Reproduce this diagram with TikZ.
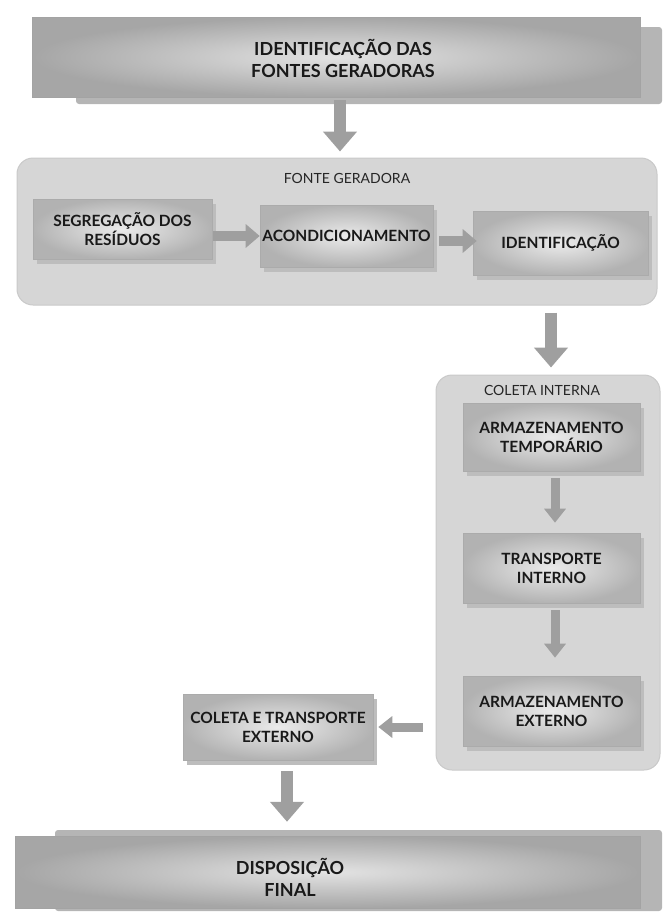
\documentclass[tikz,border=0pt]{standalone}
\usepackage{fontspec}
\setmainfont{Lato}
\usetikzlibrary{shadows,arrows.meta,calc}
\begin{document}
\begin{tikzpicture}[x=1pt,y=-1pt,
  banner/.style={rectangle, inner color=gray!22, outer color=gray!70, draw=gray!72, line width=0.5pt},
  backlayer/.style={fill=gray!58, rounded corners=3pt},
  btext/.style={align=center, font=\bfseries\fontsize{18}{22}\selectfont, text=black!90, inner sep=0pt},
  cont/.style={rectangle, rounded corners=16pt, fill=gray!32, draw=gray!42, line width=1pt},
  ctext/.style={font=\fontsize{14}{16}\selectfont, text=black!85, inner sep=0pt},
  box/.style={rectangle, inner color=gray!16, outer color=gray!60, draw=gray!66, line width=0.6pt,
    drop shadow={shadow xshift=4pt, shadow yshift=-5pt, fill=gray!52, opacity=1},
    align=center, font=\bfseries\fontsize{15.5}{19}\selectfont, text=black!90, inner sep=2pt},
  bigarrow/.style={line width=12pt, draw=gray!75, -{Triangle[width=33pt,length=20pt]}},
  harrow/.style={line width=10pt, draw=gray!75, -{Triangle[width=23pt,length=14pt]}},
  smallarrow/.style={line width=9pt, draw=gray!75, -{Triangle[width=21pt,length=14pt]}}
]
\useasboundingbox (0,0) rectangle (664,913);

% top banner
\path[backlayer] (76,27) rectangle (662,104);
\node[banner, minimum width=608pt, minimum height=80pt] (top) at (336,57) {};
\node[btext] (toptxt) at (343,58) {IDENTIFICAÇÃO DAS\\FONTES GERADORAS};

% fonte geradora
\node[cont, minimum width=640pt, minimum height=147pt] (fonte) at (337,231.5) {};
\node[ctext] (fontelbl) at (347,178) {FONTE GERADORA};
\node[box, minimum width=179pt, minimum height=60pt] (seg) at (122.5,229) {SEGREGAÇÃO DOS\\RESÍDUOS};
\node[box, minimum width=173pt, minimum height=62pt] (acond) at (346.5,236) {ACONDICIONAMENTO};
\node[box, minimum width=175pt, minimum height=64pt] (ident) at (560.5,243) {IDENTIFICAÇÃO};

% coleta interna
\node[cont, minimum width=224pt, minimum height=395pt] (coleta) at (548,572.5) {};
\node[ctext] (coletalbl) at (542,390) {COLETA INTERNA};
\node[box, minimum width=177pt, minimum height=68pt] (armtemp) at (551.5,437) {ARMAZENAMENTO\\TEMPORÁRIO};
\node[box, minimum width=177pt, minimum height=70pt] (transp) at (551.5,568) {TRANSPORTE\\INTERNO};
\node[box, minimum width=177pt, minimum height=70pt] (armext) at (551.5,711) {ARMAZENAMENTO\\EXTERNO};

% coleta externa
\node[box, minimum width=190pt, minimum height=66pt] (cext) at (278,727) {COLETA E TRANSPORTE\\EXTERNO};

% disposicao final
\path[backlayer] (55,830) rectangle (662,911);
\node[banner, minimum width=625pt, minimum height=72pt] (disp) at (327.5,872) {};
\node[btext] (disptxt) at (290,877) {DISPOSIÇÃO\\FINAL};

% arrows
\coordinate (a1x) at (340,0);
\coordinate (a2x) at (551,0);
\coordinate (a3x) at (555,0);
\coordinate (a4x) at (287,0);
\coordinate (h2y) at (0,241);

\draw[bigarrow, shorten <=3pt, shorten >=6pt] (top.south -| a1x) -- (fonte.north -| a1x);
\draw[harrow, shorten <=1pt, shorten >=0pt] (seg.east |- acond.west) -- (acond.west);
\draw[harrow, shorten <=6pt, shorten >=-4pt] (acond.east |- h2y) -- (ident.west |- h2y);
\draw[bigarrow, shorten <=7pt, shorten >=7pt] (fonte.south -| a2x) -- (coleta.north -| a2x);
\draw[smallarrow, shorten <=7pt, shorten >=10pt] (armtemp.south -| a3x) -- (transp.north -| a3x);
\draw[smallarrow, shorten <=7pt, shorten >=18pt] (transp.south -| a3x) -- (armext.north -| a3x);
\draw[smallarrow, shorten <=13pt, shorten >=5pt] (coleta.west |- cext.east) -- (cext.east);
\draw[bigarrow, shorten <=11pt, shorten >=14pt] (cext.south -| a4x) -- (disp.north -| a4x);
\end{tikzpicture}
\end{document}
